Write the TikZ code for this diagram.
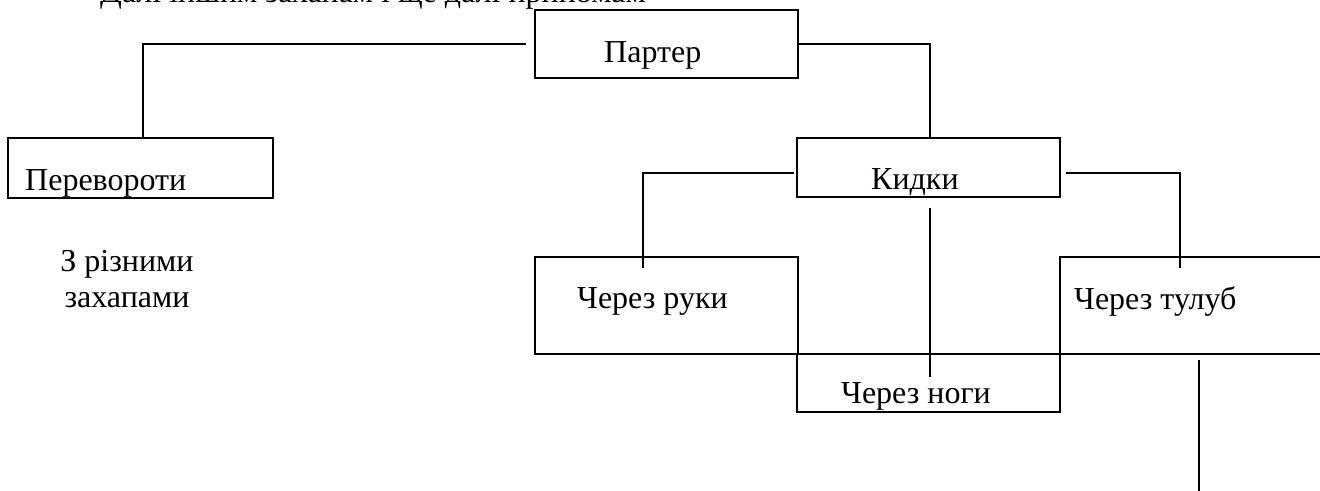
\documentclass[tikz,border=0pt]{standalone}
\usepackage{fontspec}
\setmainfont{Liberation Serif}
\begin{document}
\begin{tikzpicture}[x=1pt,y=-1pt,
  box/.style={draw,line width=2.4pt,inner sep=0pt},
  conn/.style={line width=1.6pt},
  lbl/.style={inner sep=0pt,font=\fontsize{32}{36}\selectfont}]
\useasboundingbox (0,0) rectangle (1320,490);
% boxes
\node[box,minimum width=263pt,minimum height=68pt] (parter) at (666.5,44) {};
\node[box,minimum width=265pt,minimum height=60pt] (perev) at (140.5,168) {};
\node[box,minimum width=263pt,minimum height=59pt] (kidki) at (928.5,167.5) {};
\node[box,minimum width=263pt,minimum height=97pt] (ruki) at (666.5,305.5) {};
\node[box,minimum width=263pt,minimum height=58pt] (nogi) at (928.5,383) {};
\node[box,minimum width=290pt,minimum height=97pt] (tulub) at (1205,305.5) {};
% texts
\node[lbl,anchor=base west] (tTop) at (100,2) {Далі іншим захапам і ще далі прийомам};
\node[lbl,anchor=base west] (tParter) at (604,62) {Партер};
\node[lbl,anchor=base west] (tPerev) at (25,190) {Перевороти};
\node[lbl,anchor=base west] (tKidki) at (871,189) {Кидки};
\node[lbl,anchor=base west] (tRuki) at (577,308) {Через руки};
\node[lbl,anchor=base west] (tTulub) at (1074,309) {Через тулуб};
\node[lbl,anchor=base west] (tNogi) at (841,403) {Через ноги};
\node[lbl,align=center,anchor=base] (tZah) at (127,307) {З різними\\захапами};
% connector end points
\coordinate (rukiIn) at (643,268);
\coordinate (tulubIn) at (1180,268);
\coordinate (kidkiMid) at (930,208);
\coordinate (nogiIn) at (930,377);
\coordinate (tailTop) at (1199,360);
\coordinate (tailEnd) at (1199,492);
% connectors
\draw[conn] ([xshift=-8pt]parter.west) -| ([xshift=2.5pt]perev.north);
\draw[conn] (parter.east) -| ([xshift=1.5pt]kidki.north);
\draw[conn] ([xshift=-2pt,yshift=-5.5pt]kidki.west) -| (rukiIn);
\draw[conn] ([xshift=5pt,yshift=-5.5pt]kidki.east) -| (tulubIn);
\draw[conn] (kidkiMid) -- (nogiIn);
\draw[conn] (tailTop) -- (tailEnd);
\end{tikzpicture}
\end{document}
